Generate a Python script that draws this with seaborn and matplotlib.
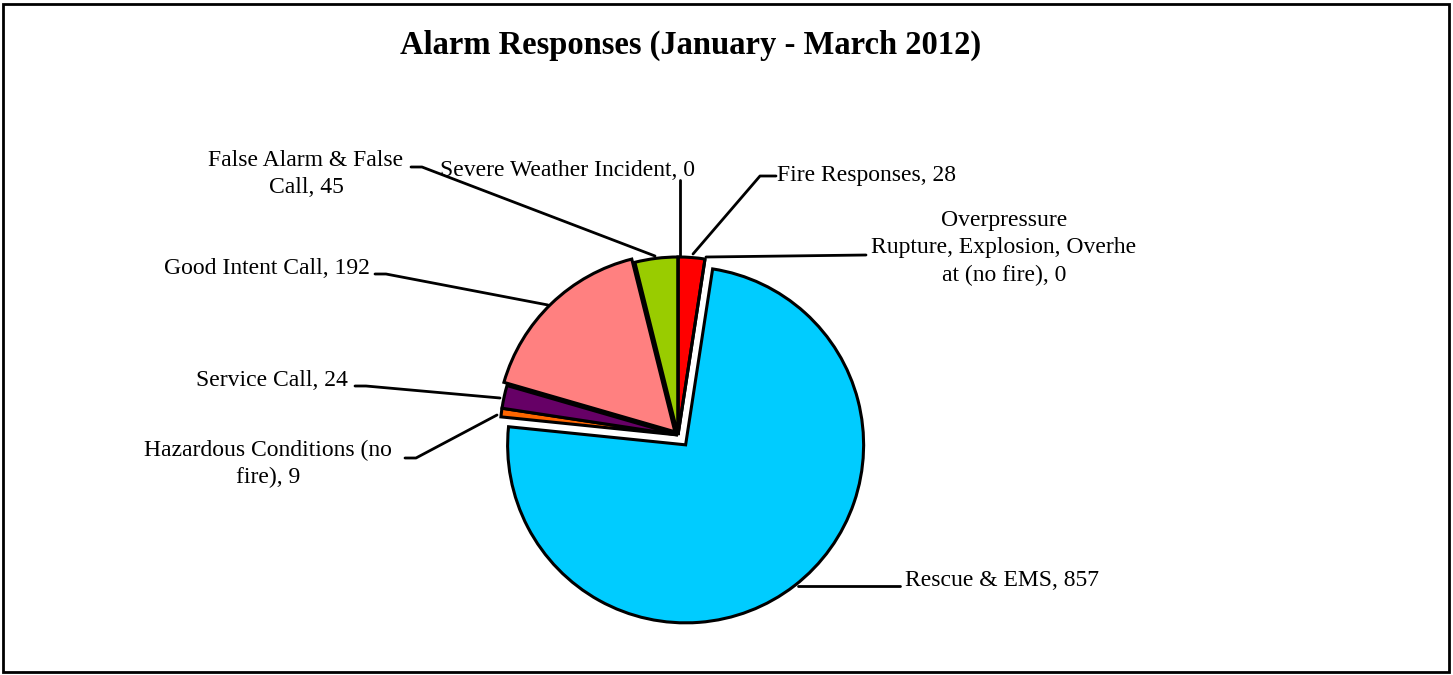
import matplotlib
matplotlib.use("Agg")
import matplotlib.pyplot as plt
from matplotlib.patches import Rectangle
import seaborn as sns

sns.set_theme(style="white")
plt.rcParams['font.family'] = ['Liberation Serif', 'DejaVu Serif']
plt.rcParams['text.color'] = 'black'

categories = ["Fire Responses",
              "Overpressure Rupture, Explosion, Overheat (no fire)",
              "Rescue & EMS",
              "Hazardous Conditions (no fire)",
              "Service Call",
              "Good Intent Call",
              "False Alarm & False Call",
              "Severe Weather Incident"]
values = [28, 0, 857, 9, 24, 192, 45, 0]
colors = ["#FF0000", "#3366FF", "#00CCFF", "#FF6600", "#660066", "#FF8080", "#99CC00", "#FFFF00"]
explode_frac = [0, 0, 0.07, 0, 0, 0.025, 0, 0]

W, H = 1453, 675
fig = plt.figure(figsize=(W / 100, H / 100), dpi=100)
ax = fig.add_axes([0, 0, 1, 1])
ax.set_xlim(0, W)
ax.set_ylim(H, 0)
ax.axis("off")

cx, cy, R = 678, 435, 178

pax = fig.add_axes([0, 0, 1, 1])
pax.axis("off")
pax.pie(values, colors=colors, explode=[e * R for e in explode_frac], startangle=90,
        counterclock=False, center=(cx, H - cy), radius=R,
        wedgeprops=dict(edgecolor="black", linewidth=2.2))
pax.set_xlim(0, W)
pax.set_ylim(0, H)
pax.set_aspect("auto")

fig.patches.append(Rectangle((3 / W, 3 / H), (W - 7) / W, (H - 7) / H, transform=fig.transFigure,
                             fill=False, edgecolor="black", linewidth=2))

ax.text(691, 45, "Alarm Responses (January - March 2012)", ha="center", va="center",
        fontsize=23.5, fontweight="bold")

fs = 17
texts = [
    ("Fire Responses, 28", 777, 175, "left"),
    ("Overpressure\nRupture, Explosion, Overhe\nat (no fire), 0", 1004, 248, "center"),
    ("Rescue & EMS, 857", 905, 580, "left"),
    ("Hazardous Conditions (no\nfire), 9", 268, 464, "center"),
    ("Service Call, 24", 348, 381, "right"),
    ("Good Intent Call, 192", 370, 268, "right"),
    ("False Alarm & False\nCall, 45", 306, 174, "center"),
    ("Severe Weather Incident, 0", 567, 170, "center"),
]
for t, x, y, ha in texts:
    ax.text(x, y, t, ha=ha, va="center", fontsize=fs, linespacing=1.38)

lines = [
    [(776, 176), (760, 176), (693, 254)],
    [(866, 255), (706, 257)],
    [(900, 586), (798, 586)],
    [(405, 458), (416, 458), (497, 415)],
    [(355, 386), (366, 386), (500, 398)],
    [(375, 274), (386, 274), (548, 305)],
    [(411, 167), (422, 167), (655, 256)],
    [(680, 180), (680, 257)],
]
for pts in lines:
    xs, ys = zip(*pts)
    ax.plot(xs, ys, color="black", linewidth=2)

fig.savefig("out.png", dpi=100)
